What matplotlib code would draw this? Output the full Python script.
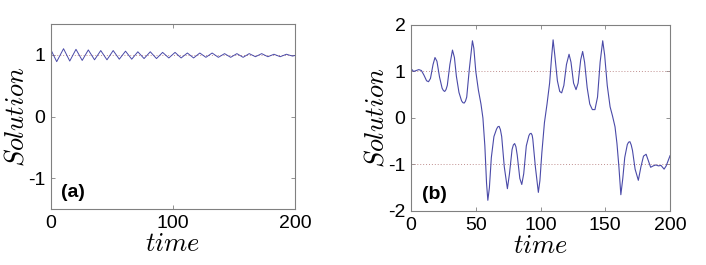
import numpy as np
import matplotlib

matplotlib.use("agg")
import matplotlib.pyplot as plt

plt.rcParams["font.family"] = ["Liberation Sans", "DejaVu Sans"]
plt.rcParams["mathtext.fontset"] = "cm"

# panel (a): damped oscillation around 1 (peaks / troughs)
t_a = [0, 4.7, 10.3, 15.4, 20.5, 25.6, 30.6, 35.7, 40.8, 45.9, 51.0, 56.0, 61.1,
       66.2, 71.2, 76.3, 81.4, 86.5, 91.5, 96.6, 101.7, 106.7, 111.8, 116.9,
       122.0, 127.0, 132.1, 137.2, 142.3, 147.3, 152.4, 157.5, 162.5, 167.6,
       172.7, 177.8, 182.8, 187.9, 193.0, 198.0, 200]
y_a = [1.08, 0.89, 1.10, 0.90, 1.09, 0.91, 1.08, 0.92, 1.07, 0.92, 1.07, 0.93, 1.06,
       0.93, 1.05, 0.94, 1.05, 0.94, 1.04, 0.95, 1.04, 0.95, 1.03, 0.95,
       1.03, 0.96, 1.03, 0.96, 1.02, 0.96, 1.02, 0.96, 1.02, 0.97,
       1.02, 0.97, 1.01, 0.97, 1.01, 0.98, 0.99]

# panel (b): switching between the two wells
t_b = [0, 2, 4, 6, 8, 10, 12, 13.5, 15, 17, 18.5, 20, 22, 24, 25, 26, 27, 28, 30, 32,
       33.5, 35, 37, 39, 40, 41, 42, 43, 45, 47.4, 48.5, 50, 52, 54, 55.5, 57, 58.3,
       59.3, 60.5, 62, 64, 66, 67, 68, 69, 70, 72, 74.4, 76, 78, 79, 80, 81, 82, 84,
       85.5, 87, 89, 91, 91.8, 92.7, 93.5, 94, 96, 98.3, 99.5, 101, 103, 105, 107,
       108.5, 109.7, 111, 113, 114.8, 116.3, 118, 120, 122, 123.5, 125.5, 127.4,
       129, 131, 132.5, 134, 136, 138, 140, 142, 144, 146, 148, 149.5, 151.5, 153.7,
       155.5, 157.5, 159, 160.5, 162, 163.5, 165, 167, 168, 169, 170, 171, 173,
       175.5, 177.5, 179.5, 181.5, 183, 185, 187, 189, 191, 193, 195.4, 197, 198.5,
       200]
y_b = [1.06, 1.00, 1.02, 1.04, 1.02, 0.92, 0.80, 0.78, 0.85, 1.15, 1.30, 1.22, 0.88,
       0.64, 0.59, 0.57, 0.61, 0.70, 1.15, 1.46, 1.30, 0.90, 0.55, 0.37, 0.33, 0.32,
       0.36, 0.45, 1.05, 1.66, 1.50, 1.00, 0.60, 0.30, 0.00, -0.60, -1.40, -1.77,
       -1.50, -0.85, -0.40, -0.24, -0.19, -0.18, -0.25, -0.40, -1.05, -1.52, -1.20,
       -0.68, -0.58, -0.55, -0.62, -0.80, -1.30, -1.43, -1.20, -0.60, -0.38, -0.34,
       -0.33, -0.37, -0.45, -1.05, -1.60, -1.35, -0.75, -0.10, 0.30, 0.75, 1.30,
       1.68, 1.35, 0.80, 0.57, 0.54, 0.70, 1.15, 1.37, 1.20, 0.75, 0.61, 0.75, 1.25,
       1.43, 1.20, 0.65, 0.30, 0.18, 0.18, 0.45, 1.20, 1.66, 1.35, 0.70, 0.24, 0.05,
       -0.19, -0.55, -1.05, -1.65, -1.30, -0.85, -0.57, -0.52, -0.51, -0.58, -0.70,
       -1.10, -1.34, -1.05, -0.82, -0.78, -0.90, -1.06, -1.03, -1.01, -1.03, -1.02,
       -1.10, -1.03, -0.92, -0.81]

line_col = "#4a4aa8"
ref_col = "#c09090"
spine_col = "#808080"

fig = plt.figure(figsize=(7.06, 2.65), dpi=100)
ax_a = fig.add_axes([0.0722, 0.2113, 0.3456, 0.698])
ax_b = fig.add_axes([0.5822, 0.2038, 0.3669, 0.702])


def style(ax, xticks, yticks, ylim, tag):
    ax.set_xlim(0, 200)
    ax.set_ylim(*ylim)
    ax.set_xticks(xticks)
    ax.set_yticks(yticks)
    ax.set_xticklabels([str(v) for v in xticks])
    ax.set_yticklabels([str(v) for v in yticks])
    ax.tick_params(direction="in", length=3, width=0.6, colors=spine_col,
                   labelcolor="black", labelsize=14, top=True, right=True,
                   pad=4)
    for s in ax.spines.values():
        s.set_color(spine_col)
        s.set_linewidth(0.8)
    ax.set_xlabel("$time$", fontsize=19, labelpad=0)
    ax.set_ylabel("$Solution$", fontsize=19, labelpad=0)
    ax.text(0.09, 0.09, tag, transform=ax.transAxes, fontsize=14,
            fontweight="bold", ha="center", va="center")


ax_a.axhline(1, color=ref_col, lw=0.7, ls=(0, (1, 2)))
ax_a.plot(t_a, y_a, color=line_col, lw=0.7)
style(ax_a, [0, 100, 200], [-1, 0, 1], (-1.5, 1.5), "(a)")

ax_b.axhline(1, color=ref_col, lw=0.7, ls=(0, (1, 2)))
ax_b.axhline(-1, color=ref_col, lw=0.7, ls=(0, (1, 2)))
ax_b.plot(t_b, y_b, color=line_col, lw=0.8)
style(ax_b, [0, 50, 100, 150, 200], [-2, -1, 0, 1, 2], (-2, 2), "(b)")

fig.savefig("out.png", dpi=100)
